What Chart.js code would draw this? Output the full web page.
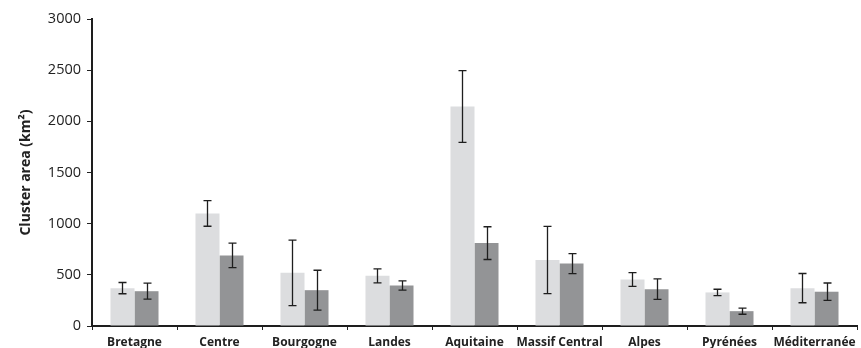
<!DOCTYPE html>
<html>
<head>
<meta charset="utf-8">
<script src="https://cdn.jsdelivr.net/npm/chart.js@4.4.1/dist/chart.umd.min.js"></script>
<style>
html,body{margin:0;padding:0;background:#fff;}
#wrap{width:861px;height:348px;position:relative;}
</style>
</head>
<body>
<div id="wrap"><canvas id="c" width="861" height="348"></canvas></div>
<script>
const categories = ["Bretagne","Centre","Bourgogne","Landes","Aquitaine","Massif Central","Alpes","Pyrénées","Méditerranée"];
const seriesA = [370, 1100, 520, 490, 2145, 645, 455, 328, 370];
const errorsA = [55, 125, 320, 68, 350, 328, 67, 31, 143];
const seriesB = [340, 690, 350, 395, 810, 610, 360, 145, 335];
const errorsB = [78, 120, 195, 45, 160, 98, 100, 30, 85];
const yTicks = [0, 500, 1000, 1500, 2000, 2500, 3000];

const errorBarPlugin = {
  id: 'errorBars',
  afterDatasetsDraw(chart) {
    const ctx = chart.ctx;
    const yScale = chart.scales.y;
    ctx.save();
    ctx.strokeStyle = '#1e1e1e';
    ctx.lineWidth = 1.3;
    chart.data.datasets.forEach((ds, di) => {
      const meta = chart.getDatasetMeta(di);
      meta.data.forEach((bar, i) => {
        const v = ds.data[i], e = ds.errors[i];
        const x = Math.round(bar.x) + 0.5;
        const yt = yScale.getPixelForValue(v + e);
        const yb = yScale.getPixelForValue(v - e);
        const cap = 4;
        ctx.beginPath();
        ctx.moveTo(x, yt); ctx.lineTo(x, yb);
        ctx.moveTo(x - cap, yt); ctx.lineTo(x + cap, yt);
        ctx.moveTo(x - cap, yb); ctx.lineTo(x + cap, yb);
        ctx.stroke();
      });
    });
    ctx.restore();
  }
};

new Chart(document.getElementById('c'), {
  type: 'bar',
  data: {
    labels: categories,
    datasets: [
      { data: seriesA, errors: errorsA, backgroundColor: '#dcdddf', categoryPercentage: 0.565, barPercentage: 1.0 },
      { data: seriesB, errors: errorsB, backgroundColor: '#939496', categoryPercentage: 0.565, barPercentage: 1.0 }
    ]
  },
  options: {
    responsive: false,
    animation: false,
    devicePixelRatio: 1,
    layout: { padding: { top: 19, right: 4, left: 0, bottom: 0 } },
    plugins: { legend: { display: false }, tooltip: { enabled: false } },
    scales: {
      x: {
        afterFit(s) { s.height = 22; },
        grid: { drawOnChartArea: false, drawTicks: true, tickLength: 4, color: '#222', offset: true },
        border: { color: '#1e1e1e', width: 2 },
        ticks: { color: '#222', padding: 5, maxRotation: 0, autoSkip: false,
          font: { family: 'Open Sans', size: 12, weight: 'bold' } }
      },
      y: {
        min: 0, max: 3000,
        afterFit(s) { s.width = 92; },
        afterBuildTicks(s) { s.ticks = yTicks.map(v => ({ value: v })); },
        grid: { drawOnChartArea: false, drawTicks: true, tickLength: 5, color: '#222' },
        border: { color: '#1e1e1e', width: 2 },
        ticks: { color: '#222', padding: 6, font: { family: 'Open Sans', size: 14.5 },
          callback: (v) => String(v) },
        title: { display: true, text: 'Cluster area (km²)', color: '#222', padding: { top: 18, bottom: 0 },
          font: { family: 'Open Sans', size: 14, weight: 'bold' } }
      }
    }
  },
  plugins: [errorBarPlugin]
});
</script>
</body>
</html>
